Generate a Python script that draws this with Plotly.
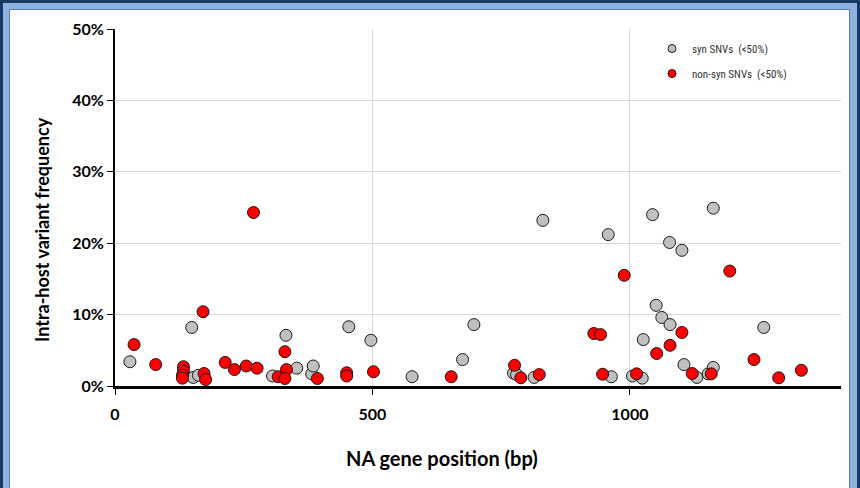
import plotly.graph_objects as go

# syn SNVs (<50%)
syn_pos = [29, 149, 152, 162, 306, 332, 353, 382, 385, 454, 497, 577, 675, 697, 774, 780,
           814, 831, 958, 964, 1005, 1024, 1026, 1044, 1051, 1062, 1077, 1078, 1101, 1105,
           1130, 1152, 1162, 1162, 1260]
syn_freq = [3.4, 8.2, 1.2, 1.5, 1.4, 7.1, 2.5, 1.7, 2.8, 8.3, 6.4, 1.3, 3.7, 8.6, 1.8, 1.6,
            1.2, 23.2, 21.2, 1.3, 1.4, 1.1, 6.5, 24.0, 11.3, 9.6, 20.1, 8.6, 19.0, 3.0,
            1.2, 1.7, 2.6, 24.9, 8.2]

# non-syn SNVs (<50%)
nonsyn_pos = [37, 79, 133, 133, 131, 131, 171, 173, 176, 214, 232, 255, 269, 276, 317, 330,
              333, 330, 393, 450, 450, 502, 653, 776, 788, 824, 930, 943, 947, 989, 1013,
              1052, 1078, 1101, 1121, 1158, 1194, 1241, 1289, 1333]
nonsyn_freq = [5.8, 3.0, 2.7, 2.1, 1.5, 1.1, 10.4, 1.75, 0.9, 3.3, 2.3, 2.8, 24.3, 2.5, 1.3, 4.8,
               2.3, 1.05, 1.05, 1.85, 1.4, 2.0, 1.3, 2.9, 1.15, 1.6, 7.35, 7.2, 1.65, 15.5, 1.7,
               4.55, 5.7, 7.5, 1.75, 1.7, 16.1, 3.7, 1.15, 2.2]

x_ticks = [0, 500, 1000]
x_tick_labels = ["0", "500", "1000"]
y_ticks = [0, 0.1, 0.2, 0.3, 0.4, 0.5]

series_names = ["syn SNVs  (<50%)", "non-syn SNVs  (<50%)"]
series_colors = ["#C0C0C0", "#FF0000"]

W, H = 860, 488
L, R, T, B = 115, 19, 29, 102
PW, PH = W - L - R, H - T - B


def px_x(p):
    return (p - L) / PW


def px_y(p):
    return (H - B - p) / PH


fig = go.Figure()
for pos, freq, name, col in [(syn_pos, syn_freq, series_names[0], series_colors[0]),
                             (nonsyn_pos, nonsyn_freq, series_names[1], series_colors[1])]:
    fig.add_trace(go.Scatter(
        x=pos, y=[f / 100 for f in freq], mode="markers", name=name, showlegend=False,
        marker=dict(size=12, color=col, line=dict(color="#1a1a1a", width=1)),
        cliponaxis=False))

for i, (name, col) in enumerate(zip(series_names, series_colors)):
    fig.add_trace(go.Scatter(
        x=[None], y=[None], mode="markers", name=name, legendgroup=f"g{i}",
        marker=dict(size=8, color=col, line=dict(color="#1a1a1a", width=1))))

navy = "#1B3A63"
lightblue = "#8DB3E2"
shapes = [
    dict(type="rect", xref="paper", yref="paper", layer="below",
         x0=px_x(3), x1=px_x(857), y0=px_y(600), y1=px_y(3),
         fillcolor=lightblue, line=dict(width=0)),
    dict(type="rect", xref="paper", yref="paper", layer="below",
         x0=px_x(9.5), x1=px_x(849.5), y0=px_y(600), y1=px_y(9.5),
         fillcolor="white", line=dict(color="#5A7DB0", width=1)),
]

axis_font = dict(family="Lato, 'DejaVu Sans', sans-serif", size=16, color="black", weight="bold")
title_font_family = "Lato, 'DejaVu Sans', sans-serif"

fig.update_layout(
    width=W, height=H,
    margin=dict(l=L, r=R, t=T, b=B),
    paper_bgcolor=navy, plot_bgcolor="white",
    shapes=shapes,
    showlegend=True,
    legend=dict(x=px_x(652), y=px_y(34), xanchor="left", yanchor="top",
                bgcolor="rgba(0,0,0,0)", traceorder="grouped", tracegroupgap=6,
                font=dict(family="'Liberation Sans Narrow', 'Roboto Condensed', 'DejaVu Sans Condensed', sans-serif",
                          size=11, color="#333333")),
    xaxis=dict(range=[0, 1410], tickvals=x_ticks, ticktext=x_tick_labels,
               showgrid=True, gridcolor="#D9D9D9", gridwidth=1, zeroline=False,
               showline=True, linecolor="black", linewidth=3,
               ticks="outside", ticklen=6, tickwidth=1, tickcolor="black",
               tickfont=axis_font, ticklabelstandoff=6),
    yaxis=dict(range=[0, 0.5], tickvals=y_ticks, tickformat=".0%",
               showgrid=True, gridcolor="#D9D9D9", gridwidth=1, zeroline=False,
               showline=True, linecolor="black", linewidth=2,
               ticks="outside", ticklen=6, tickwidth=1, tickcolor="black",
               tickfont=axis_font),
    annotations=[
        dict(text="NA gene position (bp)", xref="paper", yref="paper",
             x=px_x(442), y=px_y(458), xanchor="center", yanchor="middle", showarrow=False,
             font=dict(family=title_font_family, size=20, color="black", weight="bold")),
        dict(text="Intra-host variant frequency", xref="paper", yref="paper",
             x=px_x(42), y=px_y(230), xanchor="center", yanchor="middle", showarrow=False,
             textangle=-90,
             font=dict(family=title_font_family, size=18, color="black", weight="bold")),
    ],
)

fig.write_html("out.html", config={"displayModeBar": False},
               post_script="document.body.style.margin='0';document.body.style.overflow='hidden';")
